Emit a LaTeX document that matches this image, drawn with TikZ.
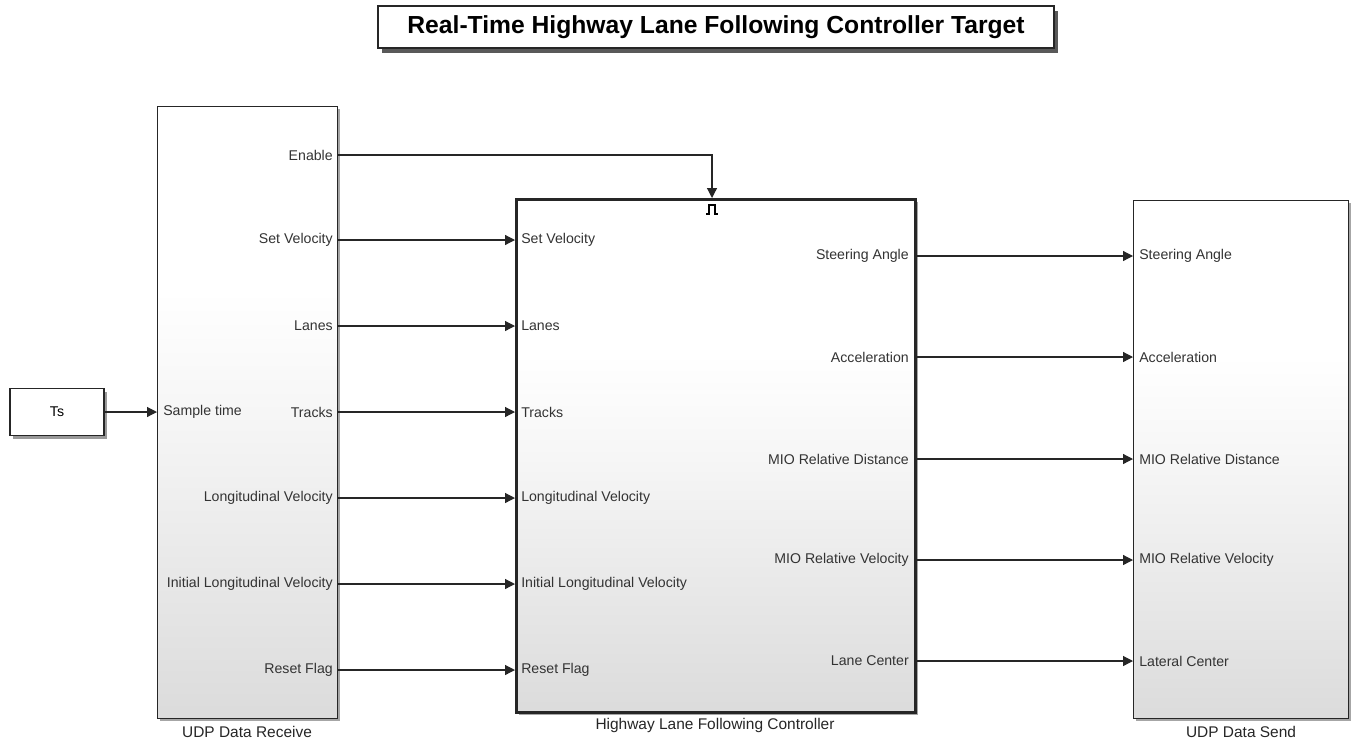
\documentclass[tikz,border=0pt]{standalone}
\usepackage{fontspec}
\setmainfont{Liberation Sans}
\usetikzlibrary{arrows.meta,shadows}
\pgfdeclareverticalshading{simgrad}{100bp}{color(0bp)=(gray!28); color(25bp)=(gray!28); color(50bp)=(gray!7); color(60bp)=(white); color(100bp)=(white)}
\tikzset{
  px/.style={x=0.75pt,y=-0.75pt},
  blk/.style={draw=black!85,line width=1.1pt,anchor=north west,inner sep=0pt,shading=simgrad,
    drop shadow={shadow xshift=2pt,shadow yshift=-2pt,opacity=0.35,fill=black}},
  plainblk/.style={draw=black!85,line width=1.1pt,inner sep=0pt,fill=white,
    drop shadow={shadow xshift=2.5pt,shadow yshift=-2.5pt,opacity=0.4,fill=black}},
  titleblk/.style={draw=black!85,line width=1.1pt,inner sep=0pt,fill=white,
    drop shadow={shadow xshift=3pt,shadow yshift=-4pt,opacity=0.65,fill=black}},
  lab/.style={font=\fontsize{10.6}{12}\selectfont,text=black!80,inner sep=0pt},
  inlab/.style={lab,anchor=west},
  outlab/.style={lab,anchor=east},
  sig/.style={draw=black!85,line width=0.9pt,-{Triangle[length=7.5pt,width=7.5pt]}},
  blkname/.style={font=\fontsize{11.6}{13}\selectfont,text=black!85,inner sep=0pt}
}
\begin{document}
\begin{tikzpicture}[px]
\useasboundingbox (0,0) rectangle (1351,740);
% title
\node[titleblk,minimum width=676*0.75pt,minimum height=42*0.75pt,
  font=\bfseries\fontsize{18.5}{21}\selectfont] (title) at (716,27) {Real-Time Highway Lane Following Controller Target};
% blocks
\node[plainblk,minimum width=94*0.75pt,minimum height=47*0.75pt,font=\fontsize{10.6}{12}\selectfont] (ts) at (57,412) {Ts};
\node[blk,minimum width=180*0.75pt,minimum height=612*0.75pt] (rx) at (157,106) {};
\node[blk,line width=2.3pt,minimum width=399*0.75pt,minimum height=513*0.75pt] (ctl) at (515,198) {};
\node[blk,minimum width=215*0.75pt,minimum height=518*0.75pt] (tx) at (1133,200) {};
% block names
\node[blkname] (rxname) at (247,732) {UDP Data Receive};
\node[blkname] (ctlname) at (715,725) {Highway Lane Following Controller};
\node[blkname] (txname) at (1241,732) {UDP Data Send};
% trigger symbol
\draw[line width=0.8pt,black] (706,214) -- (709,214) -- (709,205) -- (715,205) -- (715,214) -- (718,214);
% receive ports
\coordinate (rin) at (157,412);
\node[inlab] (rinl) at (163,412) {Sample time};
\foreach \n/\y/\t in {1/155/Enable,2/240/Set Velocity,3/326/Lanes,4/412/Tracks,5/498/Longitudinal Velocity,6/584/Initial Longitudinal Velocity,7/670/Reset Flag}{
  \coordinate (ro\n) at (337,\y);
  \node[outlab] (rol\n) at (333,\y) {\t};
}
% controller ports
\coordinate (ctrig) at (712,198);
\foreach \n/\y/\t in {2/240/Set Velocity,3/326/Lanes,4/412/Tracks,5/498/Longitudinal Velocity,6/584/Initial Longitudinal Velocity,7/670/Reset Flag}{
  \coordinate (ci\n) at (515,\y);
  \node[inlab] (cil\n) at (521,\y) {\t};
}
\foreach \n/\y/\t in {1/256/Steering Angle,2/357/Acceleration,3/459/MIO Relative Distance,4/560/MIO Relative Velocity,5/661/Lane Center}{
  \coordinate (co\n) at (914,\y);
  \node[outlab] (col\n) at (909,\y) {\t};
  \coordinate (ti\n) at (1133,\y);
}
\foreach \n/\y/\t in {1/256/Steering Angle,2/357/Acceleration,3/459/MIO Relative Distance,4/560/MIO Relative Velocity,5/661/Lateral Center}{
  \node[inlab] (til\n) at (1139,\y) {\t};
}
% connectors
\draw[sig] (ts.east) -- (rin);
\draw[sig] (ro1) -| (ctrig);
\foreach \n in {2,...,7}{\draw[sig] (ro\n) -- (ci\n);}
\foreach \n in {1,...,5}{\draw[sig] (co\n) -- (ti\n);}
\end{tikzpicture}
\end{document}
